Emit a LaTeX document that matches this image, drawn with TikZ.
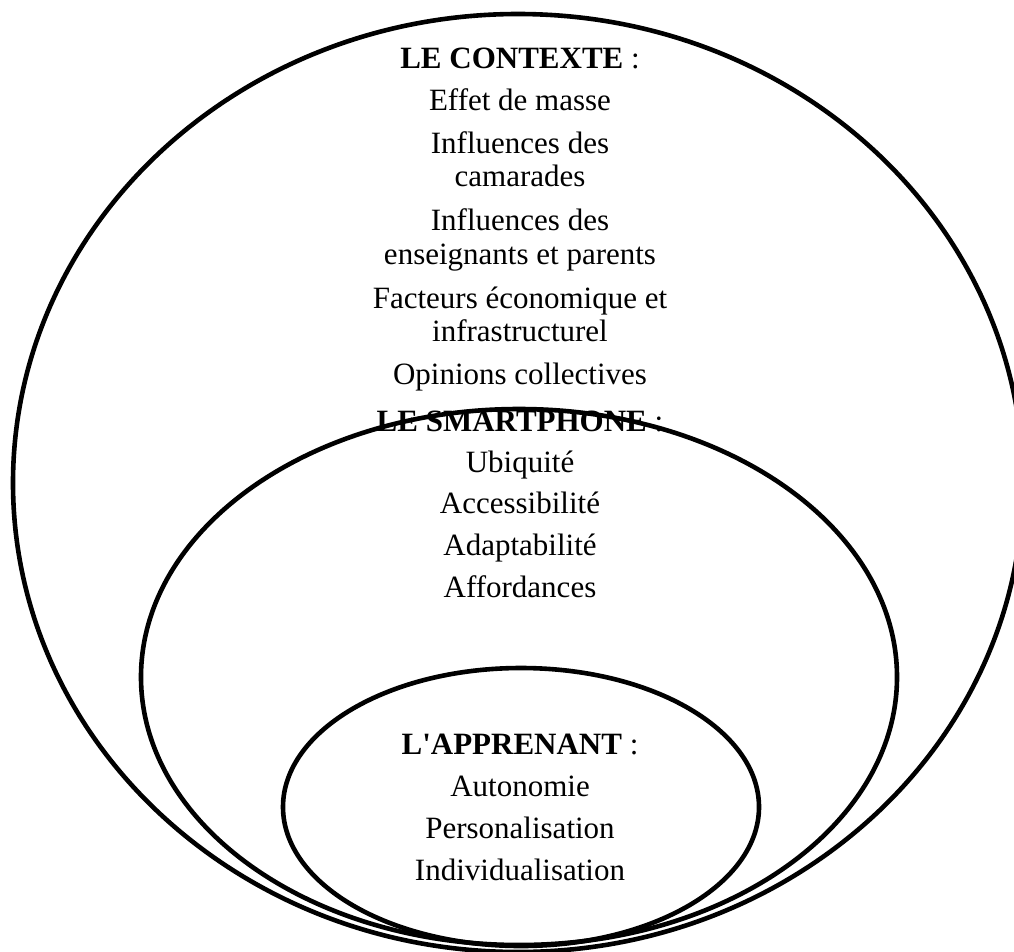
\documentclass[tikz,border=0pt]{standalone}
\usepackage{fontspec}
\setmainfont{Liberation Serif}[Ligatures=TeXOff]
\begin{document}
\begin{tikzpicture}[x=1pt,y=-1pt,
  ring/.style={draw=black,line width=4.6pt},
  txt/.style={anchor=base,inner sep=0pt,font=\fontsize{31}{36}\selectfont}]
\useasboundingbox (0,0) rectangle (1014,951);
\clip (0,0) rectangle (1014,951);
\draw[ring] (518,483) ellipse [x radius=505pt, y radius=469pt];
\draw[ring] (519,677) ellipse [x radius=378pt, y radius=268pt];
\draw[ring] (521,807) ellipse [x radius=238pt, y radius=139pt];
% contexte
\node[txt] (c0) at (520,68) {\textbf{LE CONTEXTE} :};
\node[txt] (c1) at (520,110) {Effet de masse};
\node[txt] (c2) at (520,153) {Influences des};
\node[txt] (c3) at (520,186) {camarades};
\node[txt] (c4) at (520,230) {Influences des};
\node[txt] (c5) at (520,264) {enseignants et parents};
\node[txt] (c6) at (520,308) {Facteurs économique et};
\node[txt] (c7) at (520,341) {infrastructurel};
\node[txt] (c8) at (520,384) {Opinions collectives};
% smartphone
\node[txt] (s0) at (520,431) {\textbf{LE SMARTPHONE} :};
\node[txt] (s1) at (520,472) {Ubiquité};
\node[txt] (s2) at (520,513) {Accessibilité};
\node[txt] (s3) at (520,555) {Adaptabilité};
\node[txt] (s4) at (520,597) {Affordances};
% apprenant
\node[txt] (a0) at (520,754) {\textbf{L'APPRENANT} :};
\node[txt] (a1) at (520,796) {Autonomie};
\node[txt] (a2) at (520,838) {Personalisation};
\node[txt] (a3) at (520,880) {Individualisation};
\end{tikzpicture}
\end{document}
